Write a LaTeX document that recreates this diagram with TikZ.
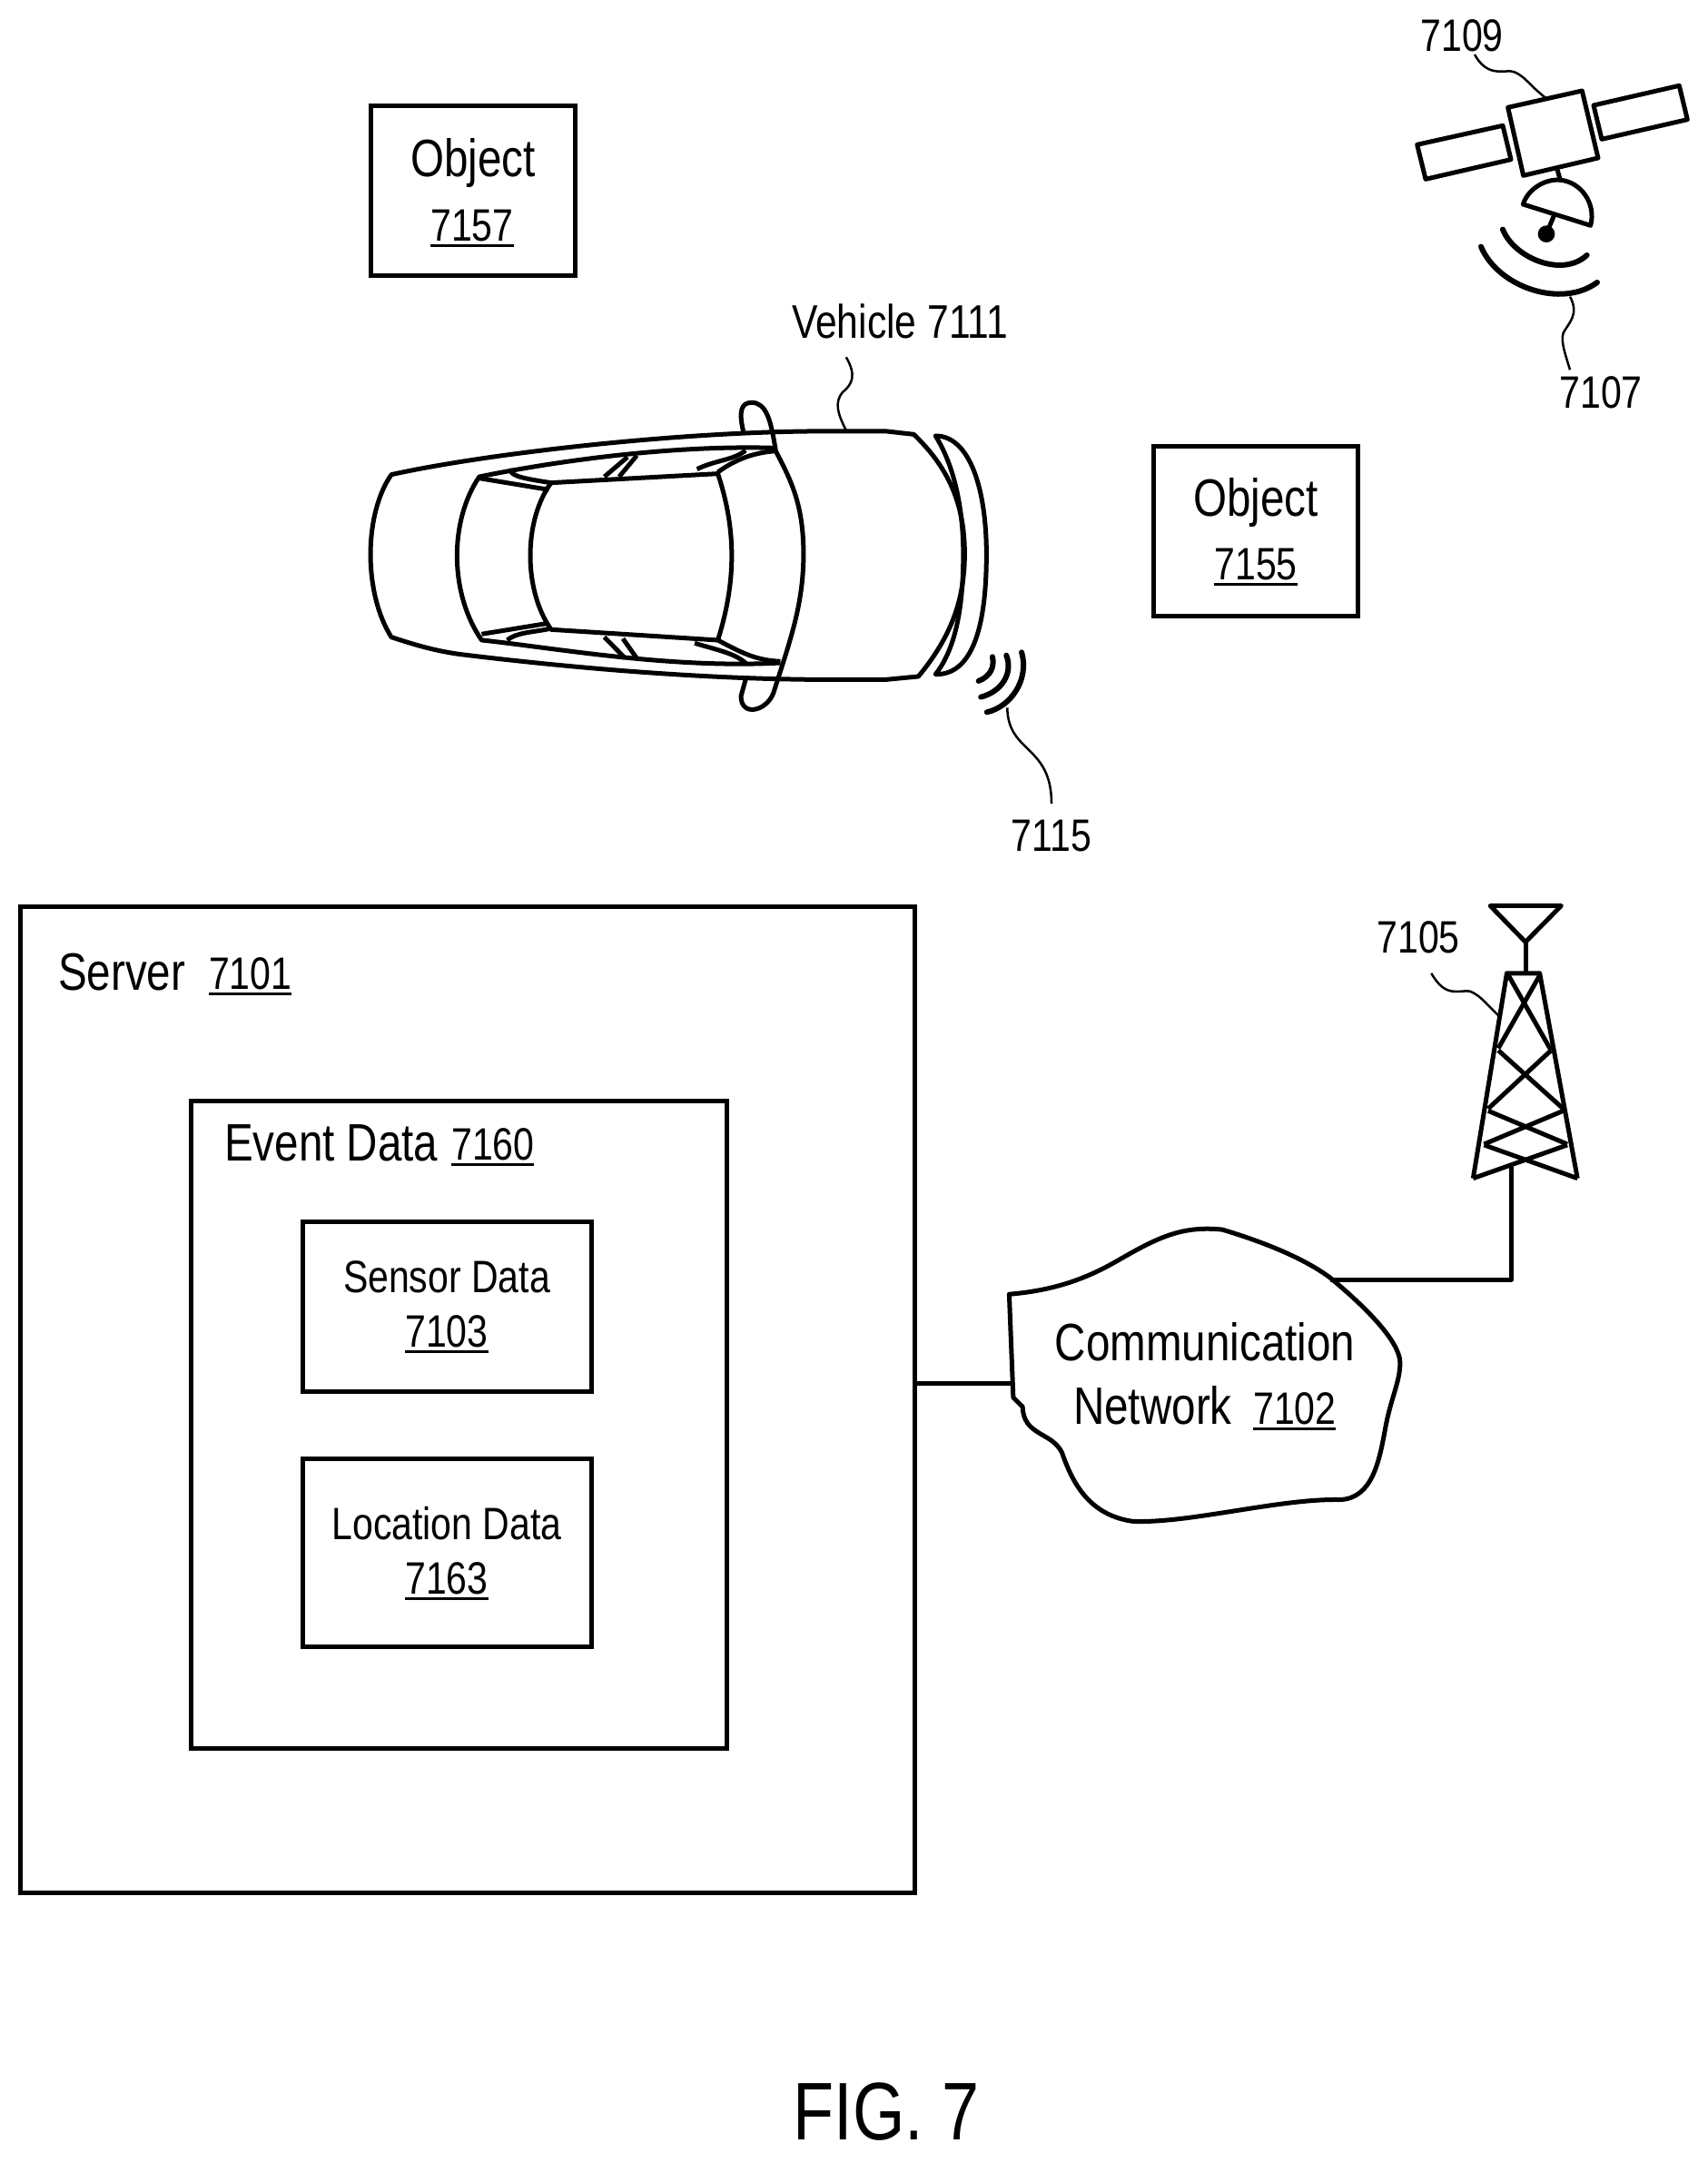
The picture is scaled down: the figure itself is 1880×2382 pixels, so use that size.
\documentclass[tikz,border=0pt]{standalone}
\usepackage{fontspec}
\setmainfont[FakeStretch=0.82]{Liberation Sans}
\newcommand\ulin[1]{\setbox0\hbox{#1}\leavevmode\rlap{\rule[-0.14em]{\wd0}{0.07em}}\box0}
\newcommand\fA{\fontsize{58}{60}\selectfont}
\newcommand\fB{\fontsize{50}{52}\selectfont}
\newcommand\fC{\fontsize{90}{92}\selectfont}
\tikzset{
  box/.style={draw=black,line width=5pt,rectangle,inner sep=0pt,outer sep=0pt,anchor=north west},
  big/.style={inner sep=0pt,font=\fA,anchor=base},
  small/.style={inner sep=0pt,font=\fB,anchor=base},
  bigw/.style={big,anchor=base west},
  smallw/.style={small,anchor=base west},
  leader/.style={line width=2.5pt},
  wave/.style={line width=6pt,line cap=round}
}
\begin{document}
\begin{tikzpicture}[x=1pt,y=-1pt]
\useasboundingbox (0,0) rectangle (1880,2382);
% boxes
\node[box,minimum width=225pt,minimum height=187pt] (obj57) at (408,116) {};
\node[box,minimum width=225pt,minimum height=187pt] (obj55) at (1270,491) {};
\node[box,minimum width=985pt,minimum height=1086pt] (server) at (22,998) {};
\node[box,minimum width=590pt,minimum height=713pt] (event) at (210,1212) {};
\node[box,minimum width=318pt,minimum height=187pt] (sensor) at (333,1345) {};
\node[box,minimum width=318pt,minimum height=207pt] (location) at (333,1606) {};
% labels
\node[big] (t57a) at (521,194) {Object};
\node[small] (t57b) at (520,265) {\ulin{7157}};
\node[big] (t55a) at (1383,568) {Object};
\node[small] (t55b) at (1383,638) {\ulin{7155}};
\node[bigw] (tsrv) at (64,1090) {Server};
\node[smallw] (tsrvn) at (230,1089) {\ulin{7101}};
\node[bigw] (tev) at (247,1278) {Event Data};
\node[smallw] (tevn) at (497,1277) {\ulin{7160}};
\node[small] (tsa) at (492,1423) {Sensor Data};
\node[small] (tsb) at (492,1483) {\ulin{7103}};
\node[small] (tla) at (492,1695) {Location Data};
\node[small] (tlb) at (492,1755) {\ulin{7163}};
\node[big] (tca) at (1327,1498) {Communication};
\node[bigw] (tcb) at (1182,1568) {Network};
\node[smallw] (tcn) at (1380,1568) {\ulin{7102}};
\node[inner sep=0pt,font=\fontsize{52}{54}\selectfont,anchor=base] (tv) at (991,372) {Vehicle 7111};
\node[small] (t09) at (1610,57) {7109};
\node[small] (t07) at (1763,449) {7107};
\node[small] (t05) at (1562,1049) {7105};
\node[small] (t15) at (1158,937) {7115};
\node[inner sep=0pt,font=\fC,anchor=base] (fig) at (976,2356) {FIG. 7};
% car
\begin{scope}[shift={(380,300)},x=0.510pt,y=-0.3333pt,every path/.style={line width=5pt,line join=round}]
\draw (100,668) .. controls (300,600) and (700,530) .. (1000,525) -- (1170,525) -- (1228,535)
  .. controls (1300,640) and (1338,760) .. (1338,930)
  .. controls (1338,1100) and (1300,1220) .. (1238,1335)
  -- (1170,1345) -- (1000,1345) .. controls (700,1340) and (400,1290) .. (250,1262)
  .. controls (190,1250) and (140,1225) .. (100,1205)
  .. controls (40,1060) and (40,800) .. (100,668) -- cycle;
\draw (860,525) .. controls (850,460) and (855,430) .. (878,430)
  .. controls (910,430) and (920,490) .. (930,590)
  .. controls (960,680) and (990,760) .. (990,930)
  .. controls (990,1100) and (960,1220) .. (925,1390)
  .. controls (910,1450) and (855,1470) .. (855,1400) -- (865,1345);
\draw (925,580) .. controls (700,570) and (450,625) .. (290,675)
  .. controls (225,820) and (225,1060) .. (295,1215)
  .. controls (450,1240) and (700,1310) .. (940,1290);
\draw (445,695) -- (805,665) .. controls (845,850) and (845,1020) .. (805,1215)
  -- (445,1180) .. controls (385,1050) and (385,820) .. (445,695) -- cycle;
\draw (290,680) -- (440,718);
\draw (355,650) .. controls (360,670) and (370,678) .. (445,695);
\draw (295,1195) -- (435,1160);
\draw (350,1215) .. controls (370,1190) and (400,1190) .. (440,1178);
\draw (610,610) -- (560,675);
\draw (630,605) -- (592,675);
\draw (560,1205) -- (605,1275);
\draw (600,1210) -- (630,1275);
\draw (805,660) .. controls (850,610) and (890,595) .. (930,590);
\draw (760,650) .. controls (800,620) and (840,620) .. (865,588);
\draw (805,1215) .. controls (860,1260) and (890,1282) .. (940,1285);
\draw (755,1225) .. controls (810,1250) and (845,1260) .. (868,1295);
\draw (1275,540) .. controls (1350,540) and (1385,720) .. (1385,930)
  .. controls (1385,1150) and (1360,1330) .. (1275,1328)
  .. controls (1320,1240) and (1335,1100) .. (1335,930)
  .. controls (1335,800) and (1320,650) .. (1275,540) -- cycle;
\draw[wave] (1398,1270) .. controls (1403,1305) and (1393,1335) .. (1368,1350);
\draw[wave] (1428,1265) .. controls (1443,1325) and (1418,1385) .. (1373,1403);
\draw[wave] (1461,1255) .. controls (1478,1345) and (1438,1435) .. (1386,1453);
\coordinate (vl) at (1082,522);
\coordinate (vt) at (1082,280);
\coordinate (w15) at (1430,1438);
\draw[leader] (vt) .. controls (1105,340) and (1095,370) .. (1075,395) .. controls (1055,430) and (1065,470) .. (vl);
\end{scope}
% 7115 leader
\coordinate (l15) at (1158,885);
\draw[leader] (w15) .. controls (1110,830) and (1158,820) .. (l15);
% satellite
\begin{scope}[shift={(1520,0)},x=0.3333pt,y=-0.3333pt,every path/.style={line width=5pt,line join=round}]
\draw (422,355) -- (667,300) -- (720,522) -- (473,580) -- cycle;
\draw (122,478) -- (405,415) -- (432,527) -- (150,592) -- cycle;
\draw (705,348) -- (988,283) -- (1015,395) -- (732,460) -- cycle;
\draw (585,560) -- (595,595);
\draw (472,675) .. controls (490,620) and (550,590) .. (595,595) .. controls (660,600) and (715,670) .. (695,745) -- cycle;
\draw (575,710) -- (549,773);
\fill (549,773) circle (28);
\draw[wave] (405,758) .. controls (440,850) and (600,920) .. (683,843);
\draw[wave] (333,815) .. controls (390,950) and (600,1020) .. (717,933);
\draw[leader] (312,180) .. controls (350,250) and (400,235) .. (430,235) .. controls (470,240) and (490,280) .. (545,322);
\draw[leader] (627,980) .. controls (660,1040) and (620,1070) .. (605,1100) .. controls (595,1130) and (615,1180) .. (627,1222);
\end{scope}
% cloud & tower
\begin{scope}[shift={(1060,980)},x=0.447pt,y=-0.4590pt,every path/.style={line width=5pt,line join=round}]
\draw (115,970) .. controls (240,960) and (320,925) .. (390,885)
  .. controls (480,835) and (540,805) .. (640,815)
  .. controls (760,850) and (850,890) .. (905,930)
  .. controls (980,990) and (1078,1080) .. (1078,1135)
  .. controls (1078,1180) and (1055,1220) .. (1042,1290)
  .. controls (1027,1370) and (1010,1460) .. (930,1463)
  .. controls (780,1460) and (560,1520) .. (420,1515)
  .. controls (310,1500) and (270,1420) .. (245,1350)
  .. controls (220,1300) and (150,1310) .. (148,1240)
  -- (125,1218) -- cycle;
\coordinate (cl) at (125,1185);
\coordinate (cr) at (905,935);
\coordinate (tb) at (1352,665);
\coordinate (tc) at (1352,935);
\draw (cr) -- (tc) -- (tb);
\draw (1300,38) -- (1475,38) -- (1387,125) -- cycle;
\draw (1387,125) -- (1387,200);
\draw (1258,692) -- (1341,200) -- (1422,200) -- (1515,692);
\draw (1345,205) -- (1450,385);
\draw (1422,205) -- (1320,380);
\draw (1320,385) -- (1480,525);
\draw (1450,385) -- (1295,525);
\draw (1295,530) -- (1490,610);
\draw (1480,530) -- (1285,610);
\draw (1285,612) -- (1515,692);
\draw (1490,612) -- (1258,692);
\draw[leader] (1155,200) .. controls (1190,260) and (1220,240) .. (1250,243) .. controls (1280,255) and (1295,280) .. (1325,305);
\end{scope}
\draw[line width=5pt] (server.east |- cl) -- (cl);
\end{tikzpicture}
\end{document}
